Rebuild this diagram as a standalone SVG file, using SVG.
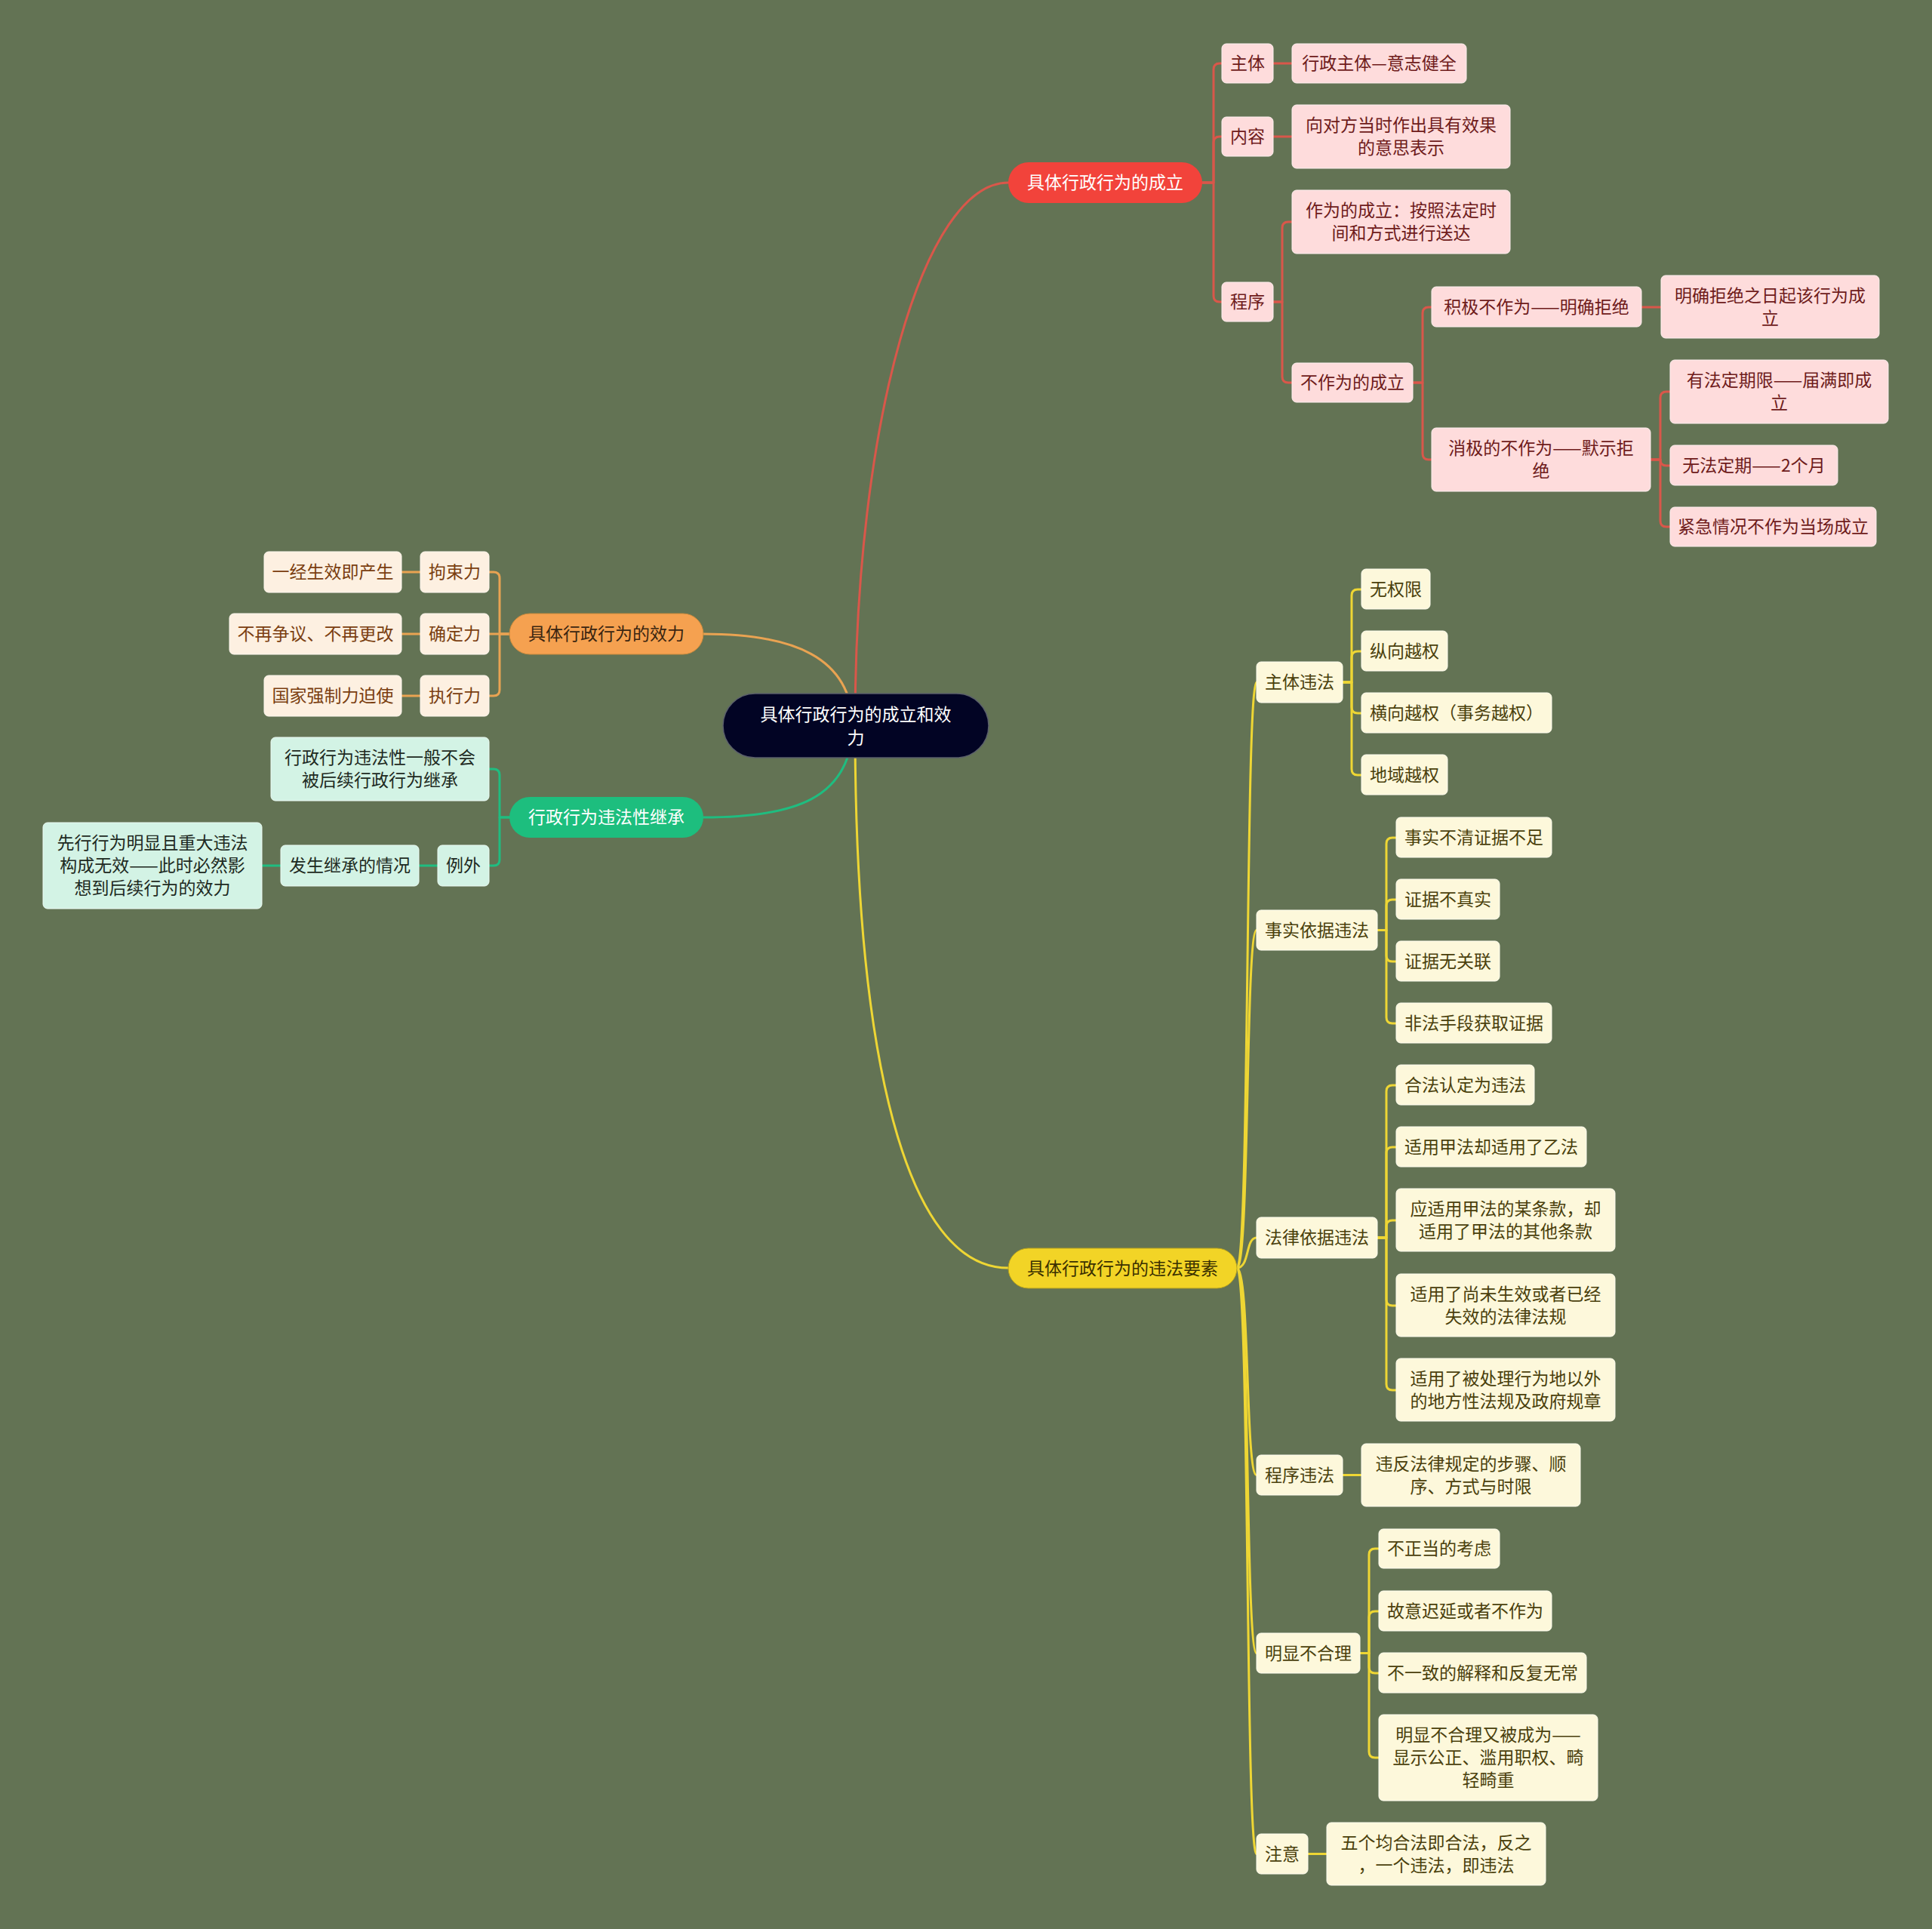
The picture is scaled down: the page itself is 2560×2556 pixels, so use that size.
<svg xmlns="http://www.w3.org/2000/svg" width="2560" height="2556" viewBox="0 0 2560 2556">
<style>
text{font-family:"Noto Sans CJK SC","Noto Sans",sans-serif;font-size:23px;text-anchor:middle}
.c{fill:none;stroke-width:3;stroke-linecap:round;stroke-linejoin:round}
.cr{stroke:#d9574a}.co{stroke:#e9a352}.cg{stroke:#1fbd80}.cy{stroke:#eed634}
.root{fill:#020424;stroke:#5a5f6a;stroke-width:1.5}
.r1{fill:#f2433b}.o1{fill:#f5a150;stroke:#c98a3c;stroke-width:1}.g1{fill:#1dbe7e}.y1{fill:#f2d426;stroke:#b7a21e;stroke-width:1}
.rl{fill:#fedcdc;stroke:#fff0f0;stroke-width:1}.ol{fill:#fdf0e1;stroke:#fff8f0;stroke-width:1}.gl{fill:#d3f3e5;stroke:#ecfbf4;stroke-width:1}.yl{fill:#fdf8db;stroke:#fffdf0;stroke-width:1}
.tw{fill:#ffffff}.tr{fill:#6e1b1b}.to{fill:#7a3e10}.tg{fill:#1e2a22}.ty{fill:#4a400c}.tod{fill:#3a2510}.tyd{fill:#3a3000}
</style>
<rect width="2560" height="2556" fill="#637354"/>
<g id="connectors">
<path class="c cr" d="M1133,961 C1133,560 1224,242 1336,242"/>
<path class="c co" d="M1130,961 C1128,870 1050,840 932,840"/>
<path class="c cg" d="M1130,961 C1128,1060 1050,1083 932,1083"/>
<path class="c cy" d="M1133,961 C1133,1400 1200,1680 1336,1680"/>
<path class="c cr" d="M1593,242 H1608 V92 Q1608,84 1616,84 H1619"/>
<path class="c cr" d="M1593,242 H1608 V189 Q1608,181 1616,181 H1619"/>
<path class="c cr" d="M1593,242 H1608 V392 Q1608,400 1616,400 H1619"/>
<path class="c cr" d="M1687,84 H1712"/>
<path class="c cr" d="M1687,181 H1712"/>
<path class="c cr" d="M1687,400 H1699 V302 Q1699,294 1707,294 H1712"/>
<path class="c cr" d="M1687,400 H1699 V499 Q1699,507 1707,507 H1712"/>
<path class="c cr" d="M1872,507 H1885 V415 Q1885,407 1893,407 H1897"/>
<path class="c cr" d="M1872,507 H1885 V601 Q1885,609 1893,609 H1897"/>
<path class="c cr" d="M2175,407 H2201"/>
<path class="c cr" d="M2187,609 H2200 V527 Q2200,519 2208,519 H2213"/>
<path class="c cr" d="M2187,609 H2200 Q2200,617 2208,617 H2213"/>
<path class="c cr" d="M2187,609 H2200 V690 Q2200,698 2208,698 H2213"/>
<path class="c co" d="M675,840 H662 V766 Q662,758 654,758 H648"/>
<path class="c co" d="M675,840 H648"/>
<path class="c co" d="M675,840 H662 V914 Q662,922 654,922 H648"/>
<path class="c co" d="M557,758 H532"/>
<path class="c co" d="M557,840 H532"/>
<path class="c co" d="M557,922 H532"/>
<path class="c cg" d="M675,1083 H662 V1027 Q662,1019 654,1019 H648"/>
<path class="c cg" d="M675,1083 H662 V1139 Q662,1147 654,1147 H648"/>
<path class="c cg" d="M580,1147 H555"/>
<path class="c cg" d="M372,1147 H347"/>
<path class="c cy" d="M1639,1680 C1656,1680 1650,904 1665,904"/>
<path class="c cy" d="M1639,1680 C1656,1680 1650,1232.5 1665,1232.5"/>
<path class="c cy" d="M1639,1680 C1656,1680 1650,1640 1665,1640"/>
<path class="c cy" d="M1639,1680 C1656,1680 1650,1954.5 1665,1954.5"/>
<path class="c cy" d="M1639,1680 C1656,1680 1650,2190.5 1665,2190.5"/>
<path class="c cy" d="M1639,1680 C1656,1680 1650,2456.5 1665,2456.5"/>
<path class="c cy" d="M1779,904 H1791 V789 Q1791,781 1799,781 H1804"/>
<path class="c cy" d="M1779,904 H1791 V871 Q1791,863 1799,863 H1804"/>
<path class="c cy" d="M1779,904 H1791 V937 Q1791,945 1799,945 H1804"/>
<path class="c cy" d="M1779,904 H1791 V1019 Q1791,1027 1799,1027 H1804"/>
<path class="c cy" d="M1825,1232.5 H1837 V1118 Q1837,1110 1845,1110 H1850"/>
<path class="c cy" d="M1825,1232.5 H1837 V1200 Q1837,1192 1845,1192 H1850"/>
<path class="c cy" d="M1825,1232.5 H1837 V1266 Q1837,1274 1845,1274 H1850"/>
<path class="c cy" d="M1825,1232.5 H1837 V1348 Q1837,1356 1845,1356 H1850"/>
<path class="c cy" d="M1825,1640 H1837 V1446 Q1837,1438 1845,1438 H1850"/>
<path class="c cy" d="M1825,1640 H1837 V1528 Q1837,1520 1845,1520 H1850"/>
<path class="c cy" d="M1825,1640 H1837 V1625 Q1837,1617 1845,1617 H1850"/>
<path class="c cy" d="M1825,1640 H1837 V1722 Q1837,1730 1845,1730 H1850"/>
<path class="c cy" d="M1825,1640 H1837 V1834 Q1837,1842 1845,1842 H1850"/>
<path class="c cy" d="M1779,1954.5 H1804"/>
<path class="c cy" d="M1802,2190.5 H1814 V2060 Q1814,2052 1822,2052 H1827"/>
<path class="c cy" d="M1802,2190.5 H1814 V2143 Q1814,2135 1822,2135 H1827"/>
<path class="c cy" d="M1802,2190.5 H1814 V2209 Q1814,2217 1822,2217 H1827"/>
<path class="c cy" d="M1802,2190.5 H1814 V2321 Q1814,2329 1822,2329 H1827"/>
<path class="c cy" d="M1733,2456.5 H1758"/>
</g>
<g id="root"><rect class="root" x="958" y="919" width="352" height="85" rx="42.5"/><text class="tw" x="1134" y="955">具体行政行为的成立和效</text><text class="tw" x="1134" y="986">力</text></g>
<g id="n-chengli"><rect class="r1" x="1336" y="215" width="257" height="54" rx="27"/><text class="tw" x="1464.5" y="250">具体行政行为的成立</text></g>
<g id="n-zhuti"><rect class="rl" x="1619" y="58" width="68" height="52" rx="6"/><text class="tr" x="1653" y="92">主体</text></g>
<g id="n-zhuti-1"><rect class="rl" x="1712" y="58" width="231" height="52" rx="6"/><text class="tr" x="1827.5" y="92">行政主体—意志健全</text></g>
<g id="n-neirong"><rect class="rl" x="1619" y="155" width="68" height="52" rx="6"/><text class="tr" x="1653" y="189">内容</text></g>
<g id="n-neirong-1"><rect class="rl" x="1712" y="139" width="289" height="84" rx="6"/><text class="tr" x="1856.5" y="174">向对方当时作出具有效果</text><text class="tr" x="1856.5" y="204">的意思表示</text></g>
<g id="n-chengxu"><rect class="rl" x="1619" y="374" width="68" height="52" rx="6"/><text class="tr" x="1653" y="408">程序</text></g>
<g id="n-zuowei"><rect class="rl" x="1712" y="252" width="289" height="84" rx="6"/><text class="tr" x="1856.5" y="287">作为的成立：按照法定时</text><text class="tr" x="1856.5" y="317">间和方式进行送达</text></g>
<g id="n-buzuowei"><rect class="rl" x="1712" y="481" width="160" height="52" rx="6"/><text class="tr" x="1792" y="515">不作为的成立</text></g>
<g id="n-jiji"><rect class="rl" x="1897" y="380" width="278" height="53" rx="6"/><text class="tr" x="2036" y="414.5">积极不作为——明确拒绝</text></g>
<g id="n-jiji-1"><rect class="rl" x="2201" y="365" width="289" height="83" rx="6"/><text class="tr" x="2345.5" y="399.5">明确拒绝之日起该行为成</text><text class="tr" x="2345.5" y="429.5">立</text></g>
<g id="n-xiaoji"><rect class="rl" x="1897" y="567" width="290" height="84" rx="6"/><text class="tr" x="2042" y="602">消极的不作为——默示拒</text><text class="tr" x="2042" y="632">绝</text></g>
<g id="n-youfading"><rect class="rl" x="2213" y="477" width="289" height="84" rx="6"/><text class="tr" x="2357.5" y="512">有法定期限——届满即成</text><text class="tr" x="2357.5" y="542">立</text></g>
<g id="n-wufading"><rect class="rl" x="2213" y="590" width="222" height="53" rx="6"/><text class="tr" x="2324" y="624.5">无法定期——2个月</text></g>
<g id="n-jinji"><rect class="rl" x="2213" y="672" width="273" height="52" rx="6"/><text class="tr" x="2349.5" y="706">紧急情况不作为当场成立</text></g>
<g id="n-xiaoli"><rect class="o1" x="675" y="813" width="257" height="54" rx="27"/><text class="tod" x="803.5" y="848">具体行政行为的效力</text></g>
<g id="n-jushuli"><rect class="ol" x="557" y="731" width="91" height="54" rx="6"/><text class="to" x="602.5" y="766">拘束力</text></g>
<g id="n-jushuli-1"><rect class="ol" x="350" y="731" width="182" height="54" rx="6"/><text class="to" x="441" y="766">一经生效即产生</text></g>
<g id="n-quedingli"><rect class="ol" x="557" y="813" width="91" height="54" rx="6"/><text class="to" x="602.5" y="848">确定力</text></g>
<g id="n-quedingli-1"><rect class="ol" x="304" y="813" width="228" height="54" rx="6"/><text class="to" x="418" y="848">不再争议、不再更改</text></g>
<g id="n-zhixingli"><rect class="ol" x="557" y="895" width="91" height="54" rx="6"/><text class="to" x="602.5" y="930">执行力</text></g>
<g id="n-zhixingli-1"><rect class="ol" x="350" y="895" width="182" height="54" rx="6"/><text class="to" x="441" y="930">国家强制力迫使</text></g>
<g id="n-jicheng"><rect class="g1" x="675" y="1056" width="257" height="54" rx="27"/><text class="tw" x="803.5" y="1091">行政行为违法性继承</text></g>
<g id="n-yiban"><rect class="gl" x="359" y="977" width="289" height="84" rx="6"/><text class="tg" x="503.5" y="1012">行政行为违法性一般不会</text><text class="tg" x="503.5" y="1042">被后续行政行为继承</text></g>
<g id="n-liwai"><rect class="gl" x="580" y="1120" width="68" height="54" rx="6"/><text class="tg" x="614" y="1155">例外</text></g>
<g id="n-fasheng"><rect class="gl" x="372" y="1120" width="183" height="54" rx="6"/><text class="tg" x="463.5" y="1155">发生继承的情况</text></g>
<g id="n-xianxing"><rect class="gl" x="57" y="1090" width="290" height="114" rx="6"/><text class="tg" x="202" y="1125">先行行为明显且重大违法</text><text class="tg" x="202" y="1155">构成无效——此时必然影</text><text class="tg" x="202" y="1185">想到后续行为的效力</text></g>
<g id="n-weifa"><rect class="y1" x="1336" y="1654" width="303" height="53" rx="26.5"/><text class="tyd" x="1487.5" y="1688.5">具体行政行为的违法要素</text></g>
<g id="n-ztwf"><rect class="yl" x="1665" y="877" width="114" height="54" rx="6"/><text class="ty" x="1722" y="912">主体违法</text></g>
<g id="n-wuquanxian"><rect class="yl" x="1804" y="754" width="91" height="53" rx="6"/><text class="ty" x="1849.5" y="788.5">无权限</text></g>
<g id="n-zongxiang"><rect class="yl" x="1804" y="836" width="114" height="53" rx="6"/><text class="ty" x="1861" y="870.5">纵向越权</text></g>
<g id="n-hengxiang"><rect class="yl" x="1804" y="918" width="252" height="53" rx="6"/><text class="ty" x="1930" y="952.5">横向越权（事务越权）</text></g>
<g id="n-diyu"><rect class="yl" x="1804" y="1000" width="114" height="53" rx="6"/><text class="ty" x="1861" y="1034.5">地域越权</text></g>
<g id="n-sswf"><rect class="yl" x="1665" y="1206" width="160" height="53" rx="6"/><text class="ty" x="1745" y="1240.5">事实依据违法</text></g>
<g id="n-ss1"><rect class="yl" x="1850" y="1083" width="206" height="53" rx="6"/><text class="ty" x="1953" y="1117.5">事实不清证据不足</text></g>
<g id="n-ss2"><rect class="yl" x="1850" y="1165" width="137" height="53" rx="6"/><text class="ty" x="1918.5" y="1199.5">证据不真实</text></g>
<g id="n-ss3"><rect class="yl" x="1850" y="1247" width="137" height="53" rx="6"/><text class="ty" x="1918.5" y="1281.5">证据无关联</text></g>
<g id="n-ss4"><rect class="yl" x="1850" y="1329" width="206" height="53" rx="6"/><text class="ty" x="1953" y="1363.5">非法手段获取证据</text></g>
<g id="n-flwf"><rect class="yl" x="1665" y="1613" width="160" height="54" rx="6"/><text class="ty" x="1745" y="1648">法律依据违法</text></g>
<g id="n-fl1"><rect class="yl" x="1850" y="1411" width="183" height="53" rx="6"/><text class="ty" x="1941.5" y="1445.5">合法认定为违法</text></g>
<g id="n-fl2"><rect class="yl" x="1850" y="1493" width="252" height="53" rx="6"/><text class="ty" x="1976" y="1527.5">适用甲法却适用了乙法</text></g>
<g id="n-fl3"><rect class="yl" x="1850" y="1575" width="290" height="83" rx="6"/><text class="ty" x="1995" y="1609.5">应适用甲法的某条款，却</text><text class="ty" x="1995" y="1639.5">适用了甲法的其他条款</text></g>
<g id="n-fl4"><rect class="yl" x="1850" y="1688" width="290" height="83" rx="6"/><text class="ty" x="1995" y="1722.5">适用了尚未生效或者已经</text><text class="ty" x="1995" y="1752.5">失效的法律法规</text></g>
<g id="n-fl5"><rect class="yl" x="1850" y="1800" width="290" height="83" rx="6"/><text class="ty" x="1995" y="1834.5">适用了被处理行为地以外</text><text class="ty" x="1995" y="1864.5">的地方性法规及政府规章</text></g>
<g id="n-cxwf"><rect class="yl" x="1665" y="1928" width="114" height="53" rx="6"/><text class="ty" x="1722" y="1962.5">程序违法</text></g>
<g id="n-cx1"><rect class="yl" x="1804" y="1913" width="290" height="83" rx="6"/><text class="ty" x="1949" y="1947.5">违反法律规定的步骤、顺</text><text class="ty" x="1949" y="1977.5">序、方式与时限</text></g>
<g id="n-mxbhl"><rect class="yl" x="1665" y="2164" width="137" height="53" rx="6"/><text class="ty" x="1733.5" y="2198.5">明显不合理</text></g>
<g id="n-mx1"><rect class="yl" x="1827" y="2026" width="160" height="52" rx="6"/><text class="ty" x="1907" y="2060">不正当的考虑</text></g>
<g id="n-mx2"><rect class="yl" x="1827" y="2108" width="229" height="53" rx="6"/><text class="ty" x="1941.5" y="2142.5">故意迟延或者不作为</text></g>
<g id="n-mx3"><rect class="yl" x="1827" y="2190" width="275" height="53" rx="6"/><text class="ty" x="1964.5" y="2224.5">不一致的解释和反复无常</text></g>
<g id="n-mx4"><rect class="yl" x="1827" y="2272" width="290" height="114" rx="6"/><text class="ty" x="1972" y="2307">明显不合理又被成为——</text><text class="ty" x="1972" y="2337">显示公正、滥用职权、畸</text><text class="ty" x="1972" y="2367">轻畸重</text></g>
<g id="n-zhuyi"><rect class="yl" x="1665" y="2430" width="68" height="53" rx="6"/><text class="ty" x="1699" y="2464.5">注意</text></g>
<g id="n-zhuyi-1"><rect class="yl" x="1758" y="2415" width="290" height="83" rx="6"/><text class="ty" x="1903" y="2449.5">五个均合法即合法，反之</text><text class="ty" x="1903" y="2479.5">，一个违法，即违法</text></g>
</svg>
